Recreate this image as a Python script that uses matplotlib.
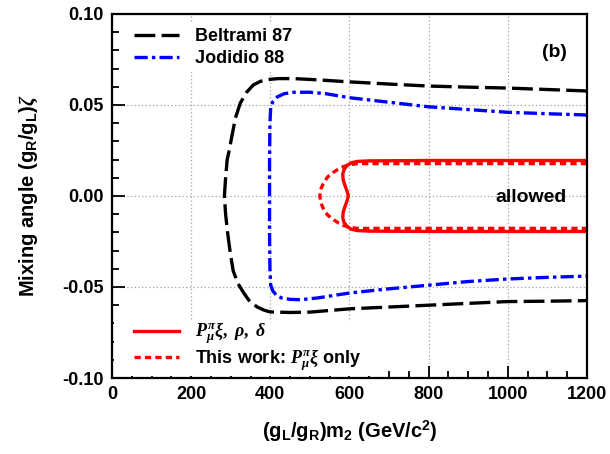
import numpy as np
import matplotlib
matplotlib.use("Agg")
import matplotlib.pyplot as plt
from matplotlib.ticker import MultipleLocator
from matplotlib.patches import Rectangle

plt.rcParams['font.family'] = ['Liberation Sans', 'DejaVu Sans']
plt.rcParams['font.weight'] = 'bold'
plt.rcParams['mathtext.fontset'] = 'custom'
plt.rcParams['mathtext.rm'] = 'Liberation Serif:bold'
plt.rcParams['mathtext.it'] = 'Liberation Serif:italic:bold'
plt.rcParams['mathtext.bf'] = 'Liberation Serif:bold'
plt.rcParams['lines.scale_dashes'] = False

# Beltrami 87 contour (black long dashes)
beltrami_x = [1200, 1100, 1000, 900, 800, 700, 600, 520, 460, 420, 395, 375, 357, 340,
              324, 312, 303, 296, 291, 287, 284, 287, 292, 298, 306, 318, 332, 348,
              367, 385, 400, 450, 500, 600, 700, 800, 900, 1000, 1100, 1200]
beltrami_y = [0.0577, 0.0585, 0.0593, 0.0598, 0.0604, 0.0615, 0.0627, 0.0638, 0.0645,
              0.0645, 0.0640, 0.0630, 0.0610, 0.0570, 0.0510, 0.0430, 0.0330, 0.0250,
              0.0200, 0.0100, 0.0, -0.0100, -0.0200, -0.0300, -0.0410, -0.0480, -0.0530,
              -0.0580, -0.0610, -0.0628, -0.0637, -0.0640, -0.0638, -0.0620, -0.0610,
              -0.0600, -0.0590, -0.0580, -0.0578, -0.0575]

# Jodidio 88 contour (blue dash-dot)
jodidio_x = [1200, 1100, 1000, 900, 800, 700, 600, 540, 500, 460, 435, 418, 407, 401,
             399, 398, 398, 398, 399, 401, 406, 415, 428, 450, 476, 520, 600, 700, 800,
             900, 1000, 1100, 1200]
jodidio_y = [0.0445, 0.0452, 0.0460, 0.0475, 0.0490, 0.0515, 0.0540, 0.0562, 0.0570,
             0.0570, 0.0562, 0.0545, 0.0520, 0.0490, 0.0400, 0.0200, 0.0, -0.0200,
             -0.0400, -0.0490, -0.0520, -0.0545, -0.0560, -0.0568, -0.0570, -0.0560,
             -0.0533, -0.0510, -0.0490, -0.0470, -0.0456, -0.0447, -0.0440]

# P xi, rho, delta (red solid)
red_solid_x = [1200, 1000, 800, 650, 620, 605, 594, 586, 583, 584, 589, 594, 597,
               594, 589, 584, 583, 586, 594, 605, 620, 650, 800, 1000, 1200]
red_solid_y = [0.0195, 0.0195, 0.0195, 0.0193, 0.0190, 0.0183, 0.0168, 0.0145, 0.0120,
               0.0090, 0.0055, 0.0025, 0.0, -0.0025, -0.0055, -0.0090, -0.0120, -0.0145,
               -0.0168, -0.0183, -0.0190, -0.0193, -0.0195, -0.0195, -0.0195]

# This work: P xi only (red short dashes)
red_dash_x = [1200, 1000, 800, 620, 600, 585, 572, 558, 545, 535, 528, 525,
              528, 535, 545, 558, 572, 585, 600, 620, 800, 1000, 1200]
red_dash_y = [0.0178, 0.0178, 0.0178, 0.0178, 0.0172, 0.0162, 0.0148, 0.0128, 0.0105,
              0.0075, 0.0040, 0.0, -0.0040, -0.0075, -0.0105, -0.0128, -0.0148, -0.0162,
              -0.0172, -0.0178, -0.0178, -0.0178, -0.0178]

fig = plt.figure(figsize=(6.1, 4.54), dpi=100)
ax = fig.add_axes([0.1836, 0.1674, 0.7787, 0.8018])

l1, = ax.plot(beltrami_x, beltrami_y, color='black', lw=2.4, dashes=(15, 4.5),
              label='Beltrami 87')
l2, = ax.plot(jodidio_x, jodidio_y, color='blue', lw=2.4, dashes=(9.5, 3, 2.5, 3),
              label='Jodidio 88')
l4, = ax.plot(red_dash_x, red_dash_y, color='red', lw=2.4, dashes=(4.5, 3),
              label=r'This work: $P^{\pi}_{\mu}\xi$ only')
l3, = ax.plot(red_solid_x, red_solid_y, color='red', lw=2.4,
              label=r'$P^{\pi}_{\mu}\xi,\ \rho,\ \delta$')

ax.set_xlim(0, 1200)
ax.set_ylim(-0.1, 0.1)
ax.xaxis.set_major_locator(MultipleLocator(200))
ax.xaxis.set_minor_locator(MultipleLocator(50))
ax.yaxis.set_major_locator(MultipleLocator(0.05))
ax.yaxis.set_minor_locator(MultipleLocator(0.01))
ax.yaxis.set_major_formatter(plt.FuncFormatter(lambda v, p: f"{v:.2f}"))
ax.tick_params(which='both', direction='in', top=False, right=False,
               labelsize=13, width=1.3, pad=6)
ax.tick_params(which='major', length=9)
ax.tick_params(which='minor', length=5)
for s in ax.spines.values():
    s.set_linewidth(1.6)
ax.grid(True, which='major', color='#aaaaaa', ls=':', lw=0.9)
ax.set_axisbelow(True)

# white patch behind the lower legend (hides grid there)
ax.add_patch(Rectangle((0.005, 0.005), 0.55, 0.15, transform=ax.transAxes,
                       facecolor='white', edgecolor='none', zorder=1))

ax.set_xlabel(r'(g$_\mathregular{L}$/g$_\mathregular{R}$)m$_\mathregular{2}$ (GeV/c$^\mathregular{2}$)',
              fontsize=14.5, fontweight='bold', labelpad=11)
ax.set_ylabel(r'Mixing angle (g$_\mathregular{R}$/g$_\mathregular{L}$)$\zeta$',
              fontsize=14.5, fontweight='bold', labelpad=16)

ax.text(1117, 0.079, '(b)', fontsize=14, fontweight='bold', ha='center', va='center')
ax.text(1058, -0.001, 'allowed', fontsize=14, fontweight='bold', ha='center', va='center')

leg1 = ax.legend(handles=[l1, l2], loc='upper left', bbox_to_anchor=(0.016, 1.0),
                 fontsize=13, handlelength=2.5, handletextpad=0.9, labelspacing=0.25,
                 borderpad=0.3, frameon=True, edgecolor='none', framealpha=1,
                 fancybox=False)
ax.add_artist(leg1)
ax.legend(handles=[l3, l4], loc='lower left', bbox_to_anchor=(0.016, -0.026),
          fontsize=13, handlelength=2.5, handletextpad=0.9, labelspacing=0.05,
          borderpad=0.3, frameon=False)

fig.savefig('out.png', dpi=100)
